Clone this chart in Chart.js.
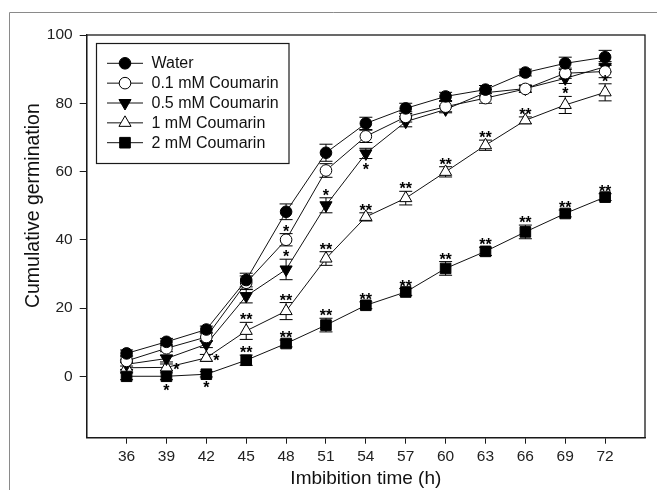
<!DOCTYPE html>
<html><head><meta charset="utf-8">
<script src="https://cdn.jsdelivr.net/npm/chart.js@4/dist/chart.umd.min.js"></script>
<style>html,body{margin:0;padding:0;background:#fff;}#wrap{width:657px;height:490px;position:relative;}</style>
</head><body><div id="wrap"><canvas id="c" width="657" height="490"></canvas></div>
<script>
// ---- data ----
const hours = [36, 39, 42, 45, 48, 51, 54, 57, 60, 63, 66, 69, 72];
const xTickValues = [36, 39, 42, 45, 48, 51, 54, 57, 60, 63, 66, 69, 72];
const yTickValues = [0, 20, 40, 60, 80, 100];
const seriesNames = ['Water', '0.1 mM Coumarin', '0.5 mM Coumarin', '1 mM Coumarin', '2 mM Coumarin'];

const water   = [6.7, 10.1, 13.7, 28.2, 48.2, 65.5, 74.1, 78.5, 82.0, 84.0, 89.0, 91.7, 93.5];
const c01     = [4.5, 8.2, 11.5, 27.4, 40.0, 60.3, 70.3, 76.0, 79.0, 81.5, 84.2, 88.8, 89.3];
const c05     = [3.5, 5.2, 9.4, 23.5, 31.3, 50.1, 65.3, 74.6, 78.2, 83.1, 84.3, 87.3, 90.7];
const c1      = [2.5, 2.6, 5.4, 13.3, 19.1, 34.5, 46.7, 52.2, 59.9, 67.7, 75.0, 79.5, 83.2];
const c2      = [0.0, 0.0, 0.6, 4.7, 9.6, 15.0, 20.8, 24.7, 31.6, 36.6, 42.3, 47.7, 52.5];

const errWater = [1.0, 1.0, 1.0, 2.0, 2.3, 2.5, 1.8, 1.5, 1.2, 1.2, 1.0, 1.8, 2.0];
const err01    = [1.5, 1.0, 1.2, 2.0, 1.8, 2.0, 1.8, 1.5, 1.5, 1.5, 1.0, 1.5, 1.8];
const err05    = [1.5, 1.0, 1.0, 2.0, 3.0, 2.2, 1.5, 1.5, 1.0, 1.0, 1.0, 1.5, 1.5];
const err1     = [1.5, 1.0, 1.0, 2.5, 2.5, 2.0, 1.2, 2.0, 1.5, 1.5, 1.0, 2.5, 2.5];
const err2     = [1.0, 1.0, 0.8, 1.5, 1.0, 2.0, 1.0, 1.0, 2.0, 1.2, 2.0, 1.0, 1.0];

const sigWater = ['', '', '', '', '', '', '', '', '', '', '', '', ''];
const sig01    = ['', '', '', '', '*', '', '', '', '', '', '', '', ''];
const sig05    = ['', '', '', '', '*', '*', '*', '', '', '', '', '', ''];
const sig1     = ['', '*', '*', '**', '**', '**', '**', '**', '**', '**', '**', '*', '*'];
const sig2     = ['', '*', '*', '**', '**', '**', '**', '**', '**', '**', '**', '**', '**'];

// ---- build ----
const allValues = [water, c01, c05, c1, c2];
const allErr = [errWater, err01, err05, err1, err2];
const allSig = [sigWater, sig01, sig05, sig1, sig2];
const starPlace = {'2-6':'below', '3-1':'right', '3-2':'right', '4-1':'below', '4-2':'below'};

const styles = [
  {pointStyle:'circle', radius:5.8, fill:'#000', rot:0},
  {pointStyle:'circle', radius:5.8, fill:'#fff', rot:0},
  {pointStyle:'triangle', radius:7, fill:'#000', rot:180},
  {pointStyle:'triangle', radius:7, fill:'#fff', rot:0},
  {pointStyle:'rect', radius:7.5, fill:'#000', rot:0}
];

const datasets = allValues.map((vals, i) => ({
  label: seriesNames[i],
  data: hours.map((h, j) => ({x: h, y: vals[j]})),
  borderColor: '#111',
  borderWidth: 1,
  pointStyle: styles[i].pointStyle,
  pointRadius: styles[i].radius,
  pointHoverRadius: styles[i].radius,
  pointRotation: styles[i].rot,
  pointBackgroundColor: styles[i].fill,
  pointBorderColor: '#000',
  pointBorderWidth: 1,
  fill: false,
  tension: 0
}));

const FONT = '"Liberation Sans", Arial, sans-serif';

const errPlugin = {
  id: 'errbars',
  beforeDatasetsDraw(chart) {
    const {ctx, scales: {x, y}} = chart;
    ctx.save();
    ctx.strokeStyle = '#000';
    ctx.lineWidth = 1;
    chart.data.datasets.forEach((ds, i) => {
      ds.data.forEach((p, j) => {
        const e = allErr[i][j];
        const px = x.getPixelForValue(p.x);
        const yt = y.getPixelForValue(p.y + e), yb = y.getPixelForValue(p.y - e);
        ctx.beginPath();
        ctx.moveTo(px, yt); ctx.lineTo(px, yb);
        ctx.moveTo(px - 6.5, yt); ctx.lineTo(px + 6.5, yt);
        ctx.moveTo(px - 6.5, yb); ctx.lineTo(px + 6.5, yb);
        ctx.stroke();
      });
    });
    ctx.restore();
  }
};

function drawMarker(ctx, style, cx, cy) {
  ctx.beginPath();
  const r = style.radius;
  if (style.pointStyle === 'circle') {
    ctx.arc(cx, cy, r, 0, Math.PI * 2);
  } else if (style.pointStyle === 'rect') {
    const s = r * Math.SQRT1_2;
    ctx.rect(cx - s, cy - s, 2 * s, 2 * s);
  } else {
    let a = style.rot * Math.PI / 180;
    for (let k = 0; k < 3; k++) {
      const px = cx + Math.sin(a) * r, py = cy - Math.cos(a) * r;
      if (k === 0) ctx.moveTo(px, py); else ctx.lineTo(px, py);
      a += 2 * Math.PI / 3;
    }
    ctx.closePath();
  }
  ctx.fillStyle = style.fill;
  ctx.fill();
  ctx.strokeStyle = '#000';
  ctx.lineWidth = 1;
  ctx.stroke();
}

const decoPlugin = {
  id: 'deco',
  afterDraw(chart) {
    const {ctx, chartArea: a, scales: {x, y}} = chart;
    ctx.save();
    // outer frame
    ctx.strokeStyle = '#8a8a8a';
    ctx.lineWidth = 1;
    ctx.beginPath();
    ctx.moveTo(9.5, 490); ctx.lineTo(9.5, 12.5); ctx.lineTo(657, 12.5);
    ctx.stroke();
    // plot box
    ctx.strokeStyle = '#1a1a1a';
    ctx.lineWidth = 1.3;
    ctx.strokeRect(a.left, a.top, a.right - a.left, a.bottom - a.top);

    // significance stars
    ctx.fillStyle = '#000';
    ctx.font = 'bold 16px ' + FONT;
    ctx.textAlign = 'center';
    ctx.textBaseline = 'alphabetic';
    chart.data.datasets.forEach((ds, i) => {
      ds.data.forEach((p, j) => {
        const s = allSig[i][j];
        if (!s) return;
        const e = allErr[i][j];
        const px = x.getPixelForValue(p.x);
        const place = starPlace[i + '-' + j] || 'above';
        let cx = px, cy;
        if (place === 'above') cy = y.getPixelForValue(p.y + e) - 6;
        else if (place === 'below') cy = y.getPixelForValue(p.y - e) + 7;
        else { cx = px + 10; cy = y.getPixelForValue(p.y) - 1; }
        ctx.fillText(s, cx, cy + 9);
      });
    });

    // y axis title
    ctx.save();
    ctx.translate(33.5, y.getPixelForValue(50));
    ctx.rotate(-Math.PI / 2);
    ctx.font = '19.5px ' + FONT;
    ctx.fillStyle = '#111';
    ctx.textAlign = 'center';
    ctx.textBaseline = 'middle';
    ctx.fillText('Cumulative germination', 0, 0);
    ctx.restore();

    // legend
    ctx.strokeStyle = '#1a1a1a';
    ctx.lineWidth = 1.2;
    ctx.strokeRect(96.5, 43.5, 192.5, 120);
    const rowY0 = 63.3, rowStep = 19.85;
    chart.data.datasets.forEach((ds, i) => {
      const ry = rowY0 + i * rowStep;
      ctx.strokeStyle = '#111';
      ctx.lineWidth = 1;
      ctx.beginPath(); ctx.moveTo(107, ry); ctx.lineTo(143, ry); ctx.stroke();
      drawMarker(ctx, styles[i], 125, ry);
      ctx.fillStyle = '#111';
      ctx.font = '16px ' + FONT;
      ctx.textAlign = 'left';
      ctx.textBaseline = 'middle';
      ctx.fillText(ds.label, 151.5, ry + 0.5);
    });
    ctx.restore();
  }
};

new Chart(document.getElementById('c'), {
  type: 'line',
  data: {datasets},
  options: {
    responsive: false,
    animation: false,
    events: [],
    layout: {padding: {left: 0, top: 35, right: 12, bottom: 0}},
    plugins: {legend: {display: false}, tooltip: {enabled: false}},
    scales: {
      x: {
        type: 'linear',
        min: 33, max: 75,
        afterBuildTicks: (s) => { s.ticks = xTickValues.map(v => ({value: v})); },
        afterFit: (s) => { s.height = 52.3; },
        grid: {display: true, drawOnChartArea: false, drawTicks: true, tickLength: 6, color: '#1a1a1a', lineWidth: 1},
        border: {display: true, color: '#1a1a1a', width: 1.3},
        ticks: {color: '#222', font: {family: FONT, size: 15.5}, padding: 4, maxRotation: 0, autoSkip: false},
        title: {display: true, text: 'Imbibition time (h)', color: '#111', font: {family: FONT, size: 19}, padding: {top: 0, bottom: 0}}
      },
      y: {
        type: 'linear',
        min: -18, max: 100,
        afterBuildTicks: (s) => { s.ticks = yTickValues.map(v => ({value: v})); },
        afterFit: (s) => { s.width = 86.7; },
        grid: {display: true, drawOnChartArea: false, drawTicks: true, tickLength: 7, color: '#1a1a1a', lineWidth: 1},
        border: {display: true, color: '#1a1a1a', width: 1.3},
        ticks: {color: '#222', font: {family: FONT, size: 15.5}, padding: 7},
        title: {display: false}
      }
    }
  },
  plugins: [errPlugin, decoPlugin]
});
</script>
</body></html>
